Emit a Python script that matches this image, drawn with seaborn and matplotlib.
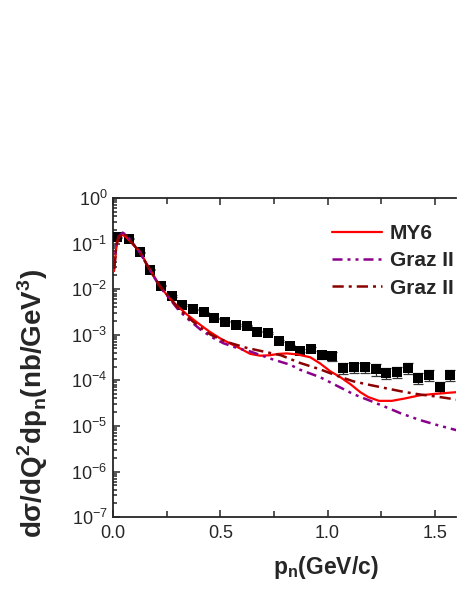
import numpy as np
import pandas as pd
import seaborn as sns
import matplotlib
matplotlib.use('Agg')
import matplotlib.pyplot as plt
from matplotlib import ticker

# measured points (black squares)
p_data = [0.019, 0.073, 0.124, 0.174, 0.224, 0.273, 0.323, 0.374, 0.424, 0.472,
          0.522, 0.573, 0.624, 0.673, 0.724, 0.774, 0.823, 0.873, 0.923, 0.974,
          1.023, 1.073, 1.123, 1.173, 1.224, 1.274, 1.324, 1.373, 1.423, 1.473,
          1.523, 1.573]
sigma_data = [0.137, 0.128, 0.0645, 0.0268, 0.0119, 0.0071, 0.0045, 0.0036, 0.0031, 0.0023,
              0.00194, 0.00164, 0.00158, 0.00117, 0.0011, 0.00073, 0.00056, 0.00045, 0.00049, 0.00036,
              0.00034, 0.000187, 0.000194, 0.000194, 0.000175, 0.000145, 0.000155, 0.000187, 0.000115, 0.000131,
              0.000073, 0.000131]
sigma_err = [0.004, 0.004, 0.002, 0.0008, 0.0004, 0.0002, 0.00013, 0.0001, 0.0001, 0.00007,
             0.00006, 0.00005, 0.00005, 0.00004, 0.00004, 0.00003, 0.00003, 0.00003, 0.00004, 0.00006,
             0.00008, 0.00005, 0.00005, 0.00005, 0.00005, 0.00004, 0.00004, 0.00005, 0.00003, 0.000035,
             0.00002, 0.000035]

# MY6 (red solid)
p_my6 = [0.005, 0.015, 0.025, 0.04, 0.06, 0.09, 0.126, 0.17, 0.219, 0.26, 0.297, 0.344, 0.406,
         0.45, 0.5, 0.55, 0.593, 0.64, 0.686, 0.73, 0.77, 0.81, 0.86, 0.92, 0.966, 1.013, 1.06,
         1.106, 1.153, 1.19, 1.24, 1.3, 1.36, 1.43, 1.51, 1.6]
s_my6 = [0.025, 0.079, 0.132, 0.158, 0.141, 0.10, 0.066, 0.028, 0.0117, 0.0066, 0.0044, 0.0028, 0.00166,
         0.00117, 0.00083, 0.00063, 0.0005, 0.00038, 0.000347, 0.000355, 0.00038, 0.00039, 0.00037, 0.00032,
         0.000234, 0.000158, 0.000117, 8.3e-5, 5.5e-5, 4.3e-5, 3.55e-5, 3.55e-5, 4.0e-5, 4.7e-5, 5.1e-5, 5.5e-5]

# Graz II (purple dash-dot-dot)
p_graz1 = [0.005, 0.015, 0.025, 0.045, 0.065, 0.09, 0.126, 0.17, 0.22, 0.266, 0.305, 0.35, 0.406,
           0.46, 0.515, 0.58, 0.64, 0.733, 0.826, 0.873, 0.966, 1.044, 1.12, 1.2, 1.28, 1.34, 1.43,
           1.51, 1.6]
s_graz1 = [0.028, 0.089, 0.141, 0.174, 0.151, 0.105, 0.063, 0.027, 0.011, 0.006, 0.0035, 0.0022, 0.00132,
           0.00089, 0.00065, 0.00051, 0.00043, 0.0003, 0.00022, 0.00017, 0.000117, 7.6e-5, 5.0e-5, 3.55e-5,
           2.5e-5, 1.9e-5, 1.35e-5, 1.05e-5, 8.1e-6]

# Graz II (dark red dash-dot)
p_graz2 = [0.005, 0.015, 0.025, 0.045, 0.065, 0.09, 0.126, 0.17, 0.22, 0.266, 0.305, 0.35, 0.406,
           0.453, 0.5, 0.546, 0.62, 0.70, 0.783, 0.873, 0.966, 1.044, 1.121, 1.199, 1.28, 1.355, 1.43,
           1.51, 1.6]
s_graz2 = [0.028, 0.089, 0.141, 0.17, 0.148, 0.102, 0.063, 0.027, 0.0112, 0.0063, 0.0038, 0.0024, 0.00145,
           0.00102, 0.00079, 0.00066, 0.00052, 0.00043, 0.000355, 0.00024, 0.000174, 0.000126, 9.5e-5, 7.9e-5,
           6.6e-5, 5.6e-5, 4.9e-5, 4.4e-5, 3.8e-5]

sns.set_style('ticks')
plt.rcParams['font.family'] = ['Liberation Sans', 'DejaVu Sans']
plt.rcParams['mathtext.fontset'] = 'custom'
plt.rcParams['mathtext.rm'] = 'Liberation Sans'
plt.rcParams['mathtext.bf'] = 'Liberation Sans:bold'
plt.rcParams['axes.linewidth'] = 1.3

fig = plt.figure(figsize=(4.57, 5.91), dpi=100)
ax = fig.add_axes([0.2473, 0.125, 0.751, 0.54])

ax.errorbar(p_data, sigma_data, yerr=sigma_err, fmt='none', ecolor='#333333',
            elinewidth=0.9, capsize=3.5, capthick=0.9, zorder=2)
sns.scatterplot(x=p_data, y=sigma_data, marker='s', s=44, color='black',
                edgecolor='black', linewidth=0, ax=ax, zorder=3)

sns.lineplot(x=p_my6, y=s_my6, color='#ff0000', lw=1.6, ax=ax, label='MY6',
             sort=False, estimator=None, zorder=4)
sns.lineplot(x=p_graz1, y=s_graz1, color='#8b008b', lw=1.8, ax=ax, label='Graz II',
             dashes=False, sort=False, estimator=None, zorder=4)
sns.lineplot(x=p_graz2, y=s_graz2, color='#8b0000', lw=1.8, ax=ax, label='Graz II',
             dashes=False, sort=False, estimator=None, zorder=4)
ax.lines[-2].set_dashes([4, 2, 1.2, 2, 1.2, 2])
ax.lines[-1].set_dashes([4.5, 2, 1.2, 2])

ax.set_yscale('log')
ax.set_xlim(0, 1.6)
ax.set_ylim(1e-7, 1)

ax.xaxis.set_major_locator(ticker.MultipleLocator(0.5))
ax.xaxis.set_minor_locator(ticker.MultipleLocator(0.25))
ax.xaxis.set_major_formatter(ticker.FormatStrFormatter('%.1f'))
ax.yaxis.set_major_locator(ticker.LogLocator(base=10, numticks=20))
ax.yaxis.set_minor_locator(ticker.LogLocator(base=10, subs=np.arange(2, 10), numticks=20))
ax.yaxis.set_major_formatter(ticker.LogFormatterMathtext())
ax.yaxis.set_minor_formatter(ticker.NullFormatter())

ax.tick_params(which='both', direction='in', top=True, right=False, labelsize=13, width=1.1)
ax.tick_params(which='major', length=5)
ax.tick_params(which='minor', length=3)
ax.tick_params(axis='x', which='minor', top=True, length=4.5)
ax.tick_params(axis='x', which='major', pad=6)
ax.tick_params(axis='y', which='major', pad=4)
ax.spines['right'].set_visible(False)

ax.set_xlabel(r'p$_{\mathbf{n}}$(GeV/c)', fontsize=16.5, fontweight='bold')
ax.xaxis.set_label_coords(0.62, -0.115)
ax.set_ylabel('dσ/dQ$^{\\mathbf{2}}$dp$_{\\mathbf{n}}$(nb/GeV$^{\\mathbf{3}}$)',
              fontsize=20, fontweight='bold')
ax.yaxis.set_label_coords(-0.185, 0.357)

leg = ax.legend(loc='upper left', bbox_to_anchor=(0.615, 0.945), frameon=False,
                prop={'weight': 'bold', 'size': 15}, handlelength=2.4,
                handletextpad=0.35, labelspacing=0.4, borderaxespad=0)

fig.savefig('out.png', dpi=100)
